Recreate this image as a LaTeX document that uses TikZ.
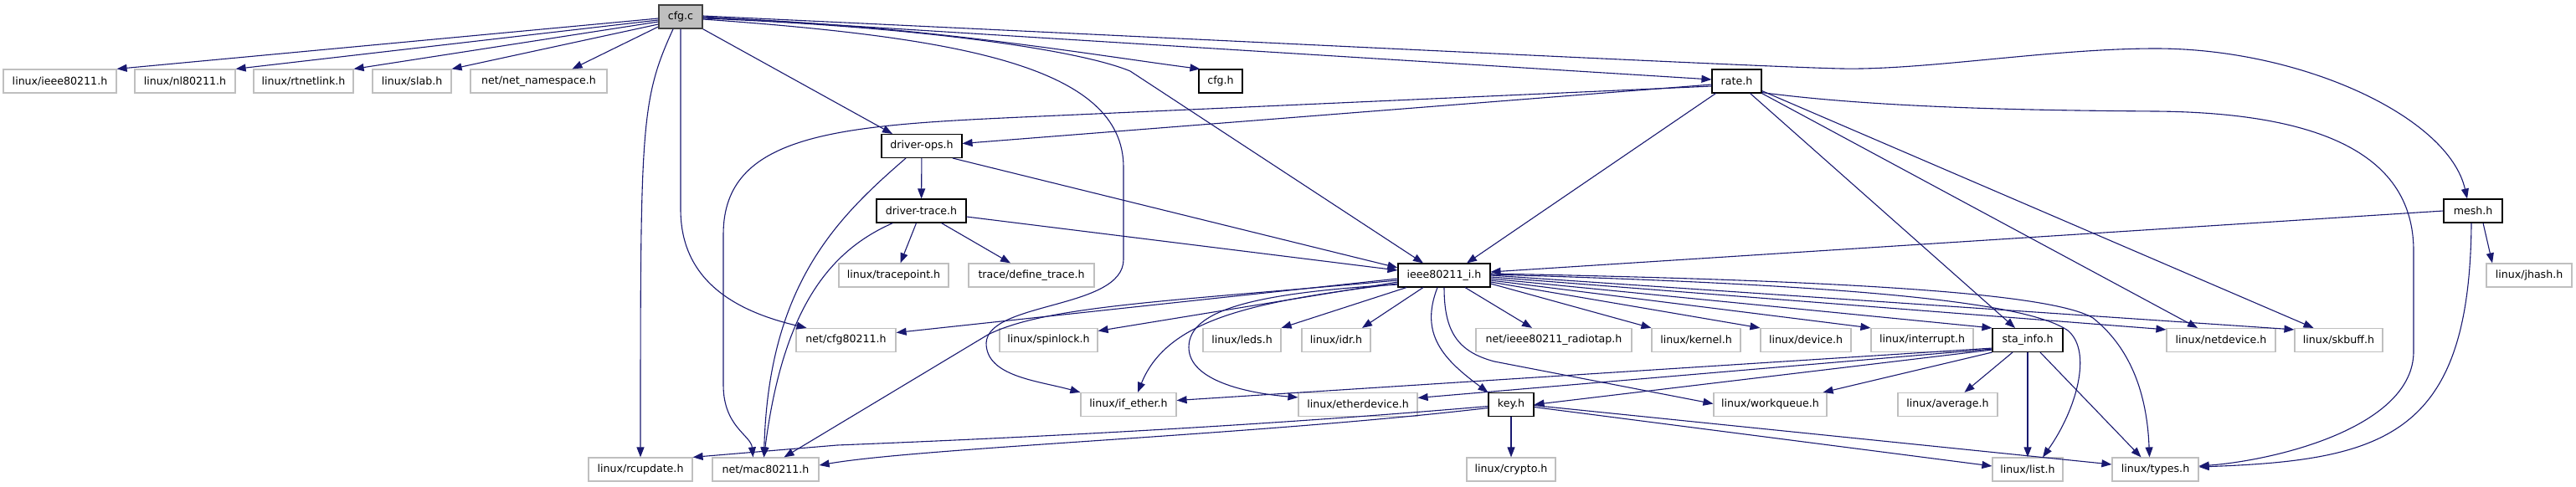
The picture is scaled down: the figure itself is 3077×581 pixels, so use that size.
\documentclass[tikz,border=0pt]{standalone}
\usepackage{fontspec}
\setmainfont{DejaVu Sans}
\usepackage{tikz}
\usetikzlibrary{arrows.meta,shadows}
\definecolor{incblue}{HTML}{191970}
\definecolor{extgray}{HTML}{BFBFBF}
\definecolor{srcfill}{HTML}{BFBFBF}

\begin{document}
\begin{tikzpicture}[
  x=1pt, y=1pt,
  font=\fontsize{12.6}{15}\selectfont,
  ext/.style={draw=extgray, fill=white, line width=1.2pt, minimum height=28pt,
              inner xsep=0pt, inner ysep=0pt},
  hdr/.style={draw=black, fill=white, line width=1.1pt, minimum height=28pt,
              inner xsep=0pt, inner ysep=0pt,
              drop shadow={shadow xshift=0.8pt, shadow yshift=-0.8pt, fill=black!45, opacity=1}},
  src/.style={hdr, draw=black!75, fill=srcfill, line width=1.5pt},
  inc/.style={-{Triangle[length=12pt,width=9pt]}, incblue, line width=1.1pt},
]
\useasboundingbox (0,0) rectangle (3077,-581);
% Source file
\node[src, minimum width=52pt] (cfgc) at (813,-20) {cfg.c};
% First row
\node[ext, minimum width=135pt] (lieee) at (71.5,-97) {linux/ieee80211.h};
\node[ext, minimum width=120pt] (lnl) at (221,-97) {linux/nl80211.h};
\node[ext, minimum width=119pt] (lrtnl) at (362.5,-97) {linux/rtnetlink.h};
\node[ext, minimum width=94pt] (lslab) at (492,-97) {linux/slab.h};
\node[ext, minimum width=163pt] (nns) at (643.5,-97) {net/net\_namespace.h};
\node[hdr, minimum width=52pt] (cfgh) at (1458,-97) {cfg.h};
\node[hdr, minimum width=59pt] (rateh) at (2074.5,-97) {rate.h};
% Driver headers and mesh
\node[hdr, minimum width=96pt] (dops) at (1101,-174.5) {driver-ops.h};
\node[hdr, minimum width=107pt] (dtrace) at (1100.5,-252) {driver-trace.h};
\node[hdr, minimum width=70pt] (meshh) at (2954,-252) {mesh.h};
\node[ext, minimum width=131pt] (ltrace) at (1067.5,-329) {linux/tracepoint.h};
\node[ext, minimum width=150pt] (tdef) at (1232,-329) {trace/define\_trace.h};
\node[hdr, minimum width=110pt] (ieeei) at (1725,-329) {ieee80211\_i.h};
\node[ext, minimum width=102pt] (ljhash) at (3021,-329) {linux/jhash.h};
% Row under ieee80211_i.h
\node[ext, minimum width=119pt] (ncfg) at (1010.5,-406.5) {net/cfg80211.h};
\node[ext, minimum width=117pt] (lspin) at (1252.5,-406.5) {linux/spinlock.h};
\node[ext, minimum width=93pt] (lleds) at (1483.5,-406.5) {linux/leds.h};
\node[ext, minimum width=82pt] (lidr) at (1596,-406.5) {linux/idr.h};
\node[ext, minimum width=186pt] (nradio) at (1856,-406.5) {net/ieee80211\_radiotap.h};
\node[ext, minimum width=106pt] (lkern) at (2026,-406.5) {linux/kernel.h};
\node[ext, minimum width=108pt] (ldev) at (2157,-406.5) {linux/device.h};
\node[ext, minimum width=122pt] (lirq) at (2296,-406.5) {linux/interrupt.h};
\node[hdr, minimum width=84pt] (stah) at (2422,-406.5) {sta\_info.h};
\node[ext, minimum width=130pt] (lndev) at (2653,-406.5) {linux/netdevice.h};
\node[ext, minimum width=105pt] (lskb) at (2793.5,-406.5) {linux/skbuff.h};
% Row of key.h
\node[ext, minimum width=114pt] (lifeth) at (1348,-483.5) {linux/if\_ether.h};
\node[ext, minimum width=142pt] (lethdev) at (1622,-483.5) {linux/etherdevice.h};
\node[hdr, minimum width=54pt] (keyh) at (1805,-483.5) {key.h};
\node[ext, minimum width=135pt] (lwq) at (2114.5,-483.5) {linux/workqueue.h};
\node[ext, minimum width=119pt] (lavg) at (2326.5,-483.5) {linux/average.h};
% Bottom row
\node[ext, minimum width=124pt] (lrcu) at (765,-561) {linux/rcupdate.h};
\node[ext, minimum width=127pt] (nmac) at (914.5,-561) {net/mac80211.h};
\node[ext, minimum width=106pt] (lcrypto) at (1805,-561) {linux/crypto.h};
\node[ext, minimum width=84pt] (llist) at (2422,-561) {linux/list.h};
\node[ext, minimum width=103pt] (ltypes) at (2574.5,-561) {linux/types.h};

% cfg.c includes
\draw[inc] ([yshift=-2pt]cfgc.west) -- (lieee.north east);
\draw[inc] ([yshift=-4pt]cfgc.west) -- (lnl.north east);
\draw[inc] ([yshift=-6pt]cfgc.west) -- (lrtnl.north east);
\draw[inc] ([yshift=-9pt]cfgc.west) -- (lslab.north east);
\draw[inc] ([yshift=-12pt]cfgc.west) -- ([xshift=40pt]nns.north);
\draw[inc] ([xshift=-9pt]cfgc.south) .. controls (765,-120) and (765,-150) .. (lrcu.north);
\draw[inc] (cfgc.south) -- (813,-250) .. controls (813,-330) and (870,-370) .. ([xshift=-47pt]ncfg.north);
\draw[inc] (cfgc.south east) -- ([xshift=-35pt]dops.north);
\draw[inc] ([yshift=-3pt]cfgc.east) .. controls (1150,-45) and (1342,-80) .. (1342,-200)
  -- (1342,-310) .. controls (1342,-370) and (1180,-360) .. (1178,-410)
  .. controls (1178,-450) and (1240,-455) .. (lifeth.north west);
\draw[inc] ([yshift=-1pt]cfgc.east) .. controls (1100,-30) and (1300,-65) .. ([xshift=2pt]cfgh.north west);
\draw[inc] ([yshift=-2pt]cfgc.east) .. controls (1100,-32) and (1290,-60) .. (1350,-85)
  -- ([xshift=-25pt]ieeei.north);
\draw[inc] (cfgc.east) -- ([yshift=2pt]rateh.west);
\draw[inc] ([yshift=1pt]cfgc.east) .. controls (1500,-50) and (2100,-80) .. (2200,-82)
  .. controls (2300,-84) and (2450,-58) .. (2575,-58)
  .. controls (2750,-58) and (2925,-140) .. ([xshift=-7pt]meshh.north);
% rate.h includes
\draw[inc] ([yshift=-4pt]rateh.west) -- ([yshift=3pt]dops.east);
\draw[inc] ([yshift=-6pt]rateh.west) -- (1220,-140) .. controls (1000,-150) and (864,-160) .. (864,-280)
  -- (864,-460) .. controls (864,-510) and (897,-520) .. ([xshift=-15pt]nmac.north);
\draw[inc] ([xshift=-25pt]rateh.south) -- ([xshift=27pt]ieeei.north);
\draw[inc] ([xshift=16pt]rateh.south) -- ([xshift=-15pt]stah.north);
\draw[inc] (rateh.south east) -- ([xshift=-28pt]lndev.north);
\draw[inc] ([yshift=3pt]rateh.south east) -- ([xshift=-30pt]lskb.north);
\draw[inc] ([yshift=1pt]rateh.south east) .. controls (2250,-130) and (2450,-132) .. (2575,-133)
  .. controls (2800,-135) and (2883,-200) .. (2883,-300) -- (2883,-420)
  .. controls (2883,-510) and (2720,-550) .. ([yshift=4pt]ltypes.east);
% mesh.h includes
\draw[inc] (meshh.west) -- ([yshift=4pt]ieeei.east);
\draw[inc] ([xshift=12pt]meshh.south) -- ([xshift=-44pt]ljhash.north);
\draw[inc] ([xshift=-2pt]meshh.south) .. controls (2950,-520) and (2850,-550) .. ([yshift=3pt]ltypes.east);
% driver-ops.h and driver-trace.h includes
\draw[inc] (dops) -- (dtrace);
\draw[inc] ([xshift=-19pt]dops.south) .. controls (1000,-260) and (918,-340) .. ([xshift=-2pt]nmac.north);
\draw[inc] ([xshift=37pt]dops.south) -- ([yshift=9pt]ieeei.west);
\draw[inc] ([xshift=-6pt]dtrace.south) -- ([xshift=8pt]ltrace.north);
\draw[inc] ([xshift=24pt]dtrace.south) -- ([xshift=-25pt]tdef.north);
\draw[inc] ([yshift=-7pt]dtrace.east) -- ([yshift=6pt]ieeei.west);
\draw[inc] ([xshift=-34pt]dtrace.south) .. controls (990,-300) and (935,-370) .. ([xshift=-2pt]nmac.north);
% ieee80211_i.h includes
\draw[inc] ([yshift=-4pt]ieeei.west) -- ([yshift=9pt]ncfg.east);
\draw[inc] ([yshift=-6pt]ieeei.west) .. controls (1400,-360) and (1250,-365) .. (1180,-400)
  -- ([xshift=22pt]nmac.north);
\draw[inc] ([yshift=-8pt]ieeei.west) -- ([yshift=11pt]lspin.east);
\draw[inc] ([yshift=-10pt]ieeei.west) .. controls (1500,-360) and (1395,-380) .. ([xshift=11pt]lifeth.north);
\draw[inc] ([yshift=-11pt]ieeei.west) .. controls (1500,-350) and (1420,-370) .. (1420,-415)
  .. controls (1420,-455) and (1490,-470) .. ([yshift=-6pt]lethdev.north west);
\draw[inc] ([xshift=-45pt]ieeei.south) -- (lleds.north east);
\draw[inc] ([xshift=-25pt]ieeei.south) -- ([xshift=31pt]lidr.north);
\draw[inc] ([xshift=25pt]ieeei.south) -- ([xshift=-26pt]nradio.north);
\draw[inc] ([xshift=-8pt]ieeei.south) .. controls (1695,-400) and (1725,-430) .. (keyh.north west);
\draw[inc] (ieeei.south) .. controls (1725,-395) and (1740,-420) .. (1785,-432) -- ([yshift=1pt]lwq.west);
\draw[inc] ([yshift=-10pt]ieeei.east) -- (lkern.north west);
\draw[inc] ([yshift=-8pt]ieeei.east) -- (ldev.north west);
\draw[inc] ([yshift=-6pt]ieeei.east) -- (lirq.north west);
\draw[inc] ([yshift=-4pt]ieeei.east) -- (stah.north west);
\draw[inc] ([yshift=-2pt]ieeei.east) -- ([yshift=-2pt]lndev.north west);
\draw[inc] (ieeei.east) -- ([yshift=-2pt]lskb.north west);
\draw[inc] ([yshift=1pt]ieeei.east) .. controls (2200,-340) and (2420,-360) .. (2470,-395)
  .. controls (2500,-420) and (2480,-490) .. ([xshift=18pt]llist.north);
\draw[inc] ([yshift=2pt]ieeei.east) .. controls (2200,-335) and (2450,-350) .. (2500,-380)
  .. controls (2550,-420) and (2565,-480) .. ([xshift=-7pt]ltypes.north);
% sta_info.h includes
\draw[inc] ([yshift=3pt]stah.south west) -- (keyh.east);
\draw[inc] ([yshift=4pt]stah.south west) -- ([yshift=8pt]lethdev.east);
\draw[inc] ([yshift=5pt]stah.south west) -- ([yshift=5pt]lifeth.east);
\draw[inc] (stah.south west) -- ([xshift=-5pt]lwq.north east);
\draw[inc] ([xshift=-18pt]stah.south) -- ([xshift=20pt]lavg.north);
\draw[inc] (stah) -- (llist);
\draw[inc] ([xshift=15pt]stah.south) -- ([xshift=-17pt]ltypes.north);
% key.h includes
\draw[inc] (keyh) -- (lcrypto);
\draw[inc] ([yshift=-4pt]keyh.west) .. controls (1500,-520) and (1100,-535) .. ([yshift=5pt]nmac.east);
\draw[inc] ([yshift=-2pt]keyh.west) .. controls (1550,-505) and (1300,-520) .. (1000,-532)
  -- (lrcu.north east);
\draw[inc] ([yshift=-3pt]keyh.east) -- ([yshift=4pt]llist.west);
\draw[inc] ([yshift=-1pt]keyh.east) -- ([yshift=6pt]ltypes.west);
\end{tikzpicture}
\end{document}
